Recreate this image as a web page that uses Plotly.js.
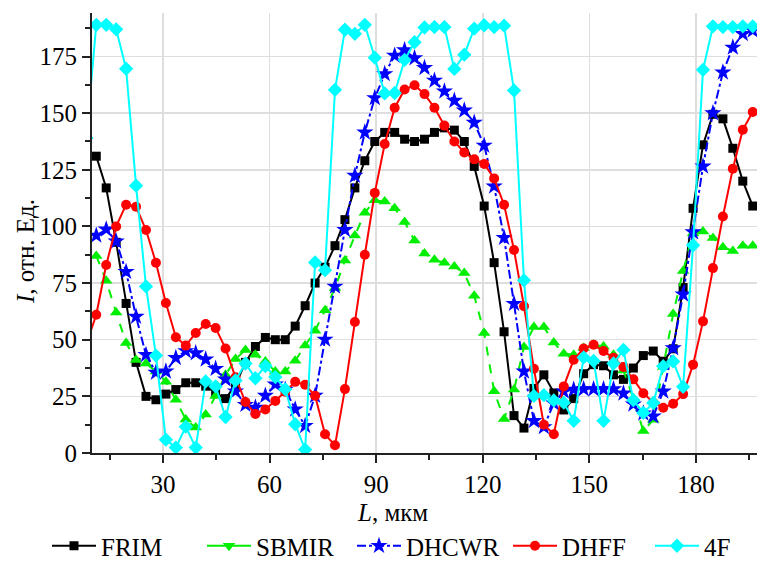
<!DOCTYPE html>
<html>
<head>
<meta charset="utf-8">
<script src="https://cdn.plot.ly/plotly-3.0.1.min.js"></script>
<style>html,body{margin:0;padding:0;background:#fff;}#chart{width:757px;height:561px;}</style>
</head>
<body>
<div id="chart"></div>
<script>
// x positions, L (мкм)
const L = [8.4, 11.2, 14.0, 16.8, 19.6, 22.4, 25.2, 28.0, 30.8, 33.6, 36.4, 39.2, 42.0, 44.8, 47.6, 50.4, 53.2, 56.0, 58.8, 61.6, 64.4, 67.2, 70.0, 72.8, 75.6, 78.4, 81.2, 84.0, 86.8, 89.6, 92.4, 95.2, 98.0, 100.8, 103.6, 106.4, 109.2, 112.0, 114.8, 117.6, 120.4, 123.2, 126.0, 128.8, 131.6, 134.4, 137.2, 140.0, 142.8, 145.6, 148.4, 151.2, 154.0, 156.8, 159.6, 162.4, 165.2, 168.0, 170.8, 173.6, 176.4, 179.2, 182.0, 184.8, 187.6, 190.4, 193.2, 196.0];

const FRIM = [null, 131, 117, 93, 66, 40, 25, 23.5, 26, 28, 31, 31, 29.5, 26.5, 24, 30, 40, 47, 51, 50, 50, 56, 65, 75, 82, 91.5, 103, 117, 129, 137.5, 141.5, 141.5, 138.5, 137.5, 138.5, 141.5, 143.5, 142.5, 137.5, 126.5, 109, 84, 53.5, 16.5, 11, 28.5, 34.5, 26.5, 19, 24, 35, 39, 38.5, 34.5, 32.5, 37.5, 43, 45, 40.5, 46, 73, 108, 136, 149.5, 147.5, 134.5, 120, 109];

const SBMIR = [null, 87, 76, 62, 48.5, 41, 39.5, 36, 31.5, 23.5, 14.8, 11.2, 17, 25.2, 34.5, 41.5, 45.5, 43.4, 40.4, 36, 36, 40.7, 47.5, 54, 63, 72.8, 85, 96, 106, 111.5, 111, 108, 102, 93.8, 88, 85.3, 84, 82.3, 79.4, 69.4, 53, 27.2, 15, 28, 46.8, 55.6, 55.6, 48.8, 43.8, 43.4, 46.3, 47.8, 47, 43.4, 36.4, 24, 9.7, 14.7, 38, 61.4, 80.3, 97, 97.8, 94.9, 90.8, 89.2, 91.5, 91.5];

const DHCWR = [null, 96, 98.7, 93.4, 80, 60.2, 43.3, 35.5, 36, 42, 45, 44.1, 41.3, 37.2, 32.5, 27.2, 21.3, 20.1, 25.3, 30.3, 28, 19.3, 12, 25.3, 50.1, 73.5, 98.5, 122.4, 141.5, 156.7, 167.3, 175.4, 177.8, 174.3, 170, 164.4, 159.6, 155.5, 151.2, 145.8, 135.7, 117.7, 95, 65.9, 36, 14.2, 11.5, 21.9, 27.2, 28, 28.2, 28.2, 28.2, 28.2, 26.3, 21.5, 17.5, 16.2, 27.2, 46.3, 70, 97.5, 126.5, 150, 168, 179, 185, 186.5];

const DHFF = [48, 61, 83, 100, 109.6, 108.7, 98.4, 84, 66.2, 51.1, 47.4, 53, 56.9, 55.2, 46.1, 33.4, 22.5, 17.2, 19.2, 23, 27, 31.4, 30.1, 25.3, 8.3, 3.4, 28.2, 57.8, 87.5, 114.8, 136.4, 152.4, 160.4, 162.3, 158.4, 152.4, 144.5, 137.5, 132.6, 129.6, 127.6, 121.2, 109.6, 89.6, 64.8, 37.2, 12.5, 8.3, 29.4, 41.2, 46.1, 47.8, 45, 42, 38, 32.5, 26.4, 22.3, 20, 21.7, 26, 39, 58.1, 81.6, 104.4, 125.5, 142.7, 150.5];

const F4 = [139, 189, 189, 187, 169.6, 118, 73.5, 43, 5.9, 2.4, 11.6, 2.4, 31.6, 29.4, 15.9, 32, 39.5, 33, 38.4, 33.5, 28.1, 12.7, 1.5, 84.1, 80.7, 160.3, 186.8, 185, 189, 174.5, 158.7, 158.9, 173.5, 181.3, 187.8, 188, 188, 169.5, 175.8, 187.3, 188.8, 188, 188.6, 160, 76.2, 25.2, 25.5, 23.2, 22.2, 14.2, 42.2, 40.6, 14.2, 39.5, 45.5, 23.3, 17.7, 22.1, 38.3, 40.4, 29.2, 91.7, 169.1, 188.3, 188, 188, 188.3, 188.3];

const seriesNames = ['FRIM', 'SBMIR', 'DHCWR', 'DHFF', '4F'];
const xTicks = [30, 60, 90, 120, 150, 180];
const yTicks = [0, 25, 50, 75, 100, 125, 150, 175];

const FONT = 'Liberation Serif';
const FS = 25;

function tr(name, y, color, symbol, size, dash, legendId, showlegend) {
  return {
    type: 'scatter', mode: 'lines+markers', name: name, x: L, y: y,
    connectgaps: false, showlegend: showlegend, legend: legendId,
    line: {color: color, width: 2, dash: dash},
    marker: {color: color, symbol: symbol, size: size, line: {width: 0}}
  };
}

const traces = [
  tr(seriesNames[0], FRIM, '#000000', 'square', 9, 'solid', 'legend', true),
  tr(seriesNames[1], SBMIR, '#00ee00', 'triangle-up', 11, 'dash', 'legend2', false),
  // legend entry for SBMIR (drawn with a down triangle as in the original legend)
  {type: 'scatter', mode: 'lines+markers', name: seriesNames[1], x: [null], y: [null], showlegend: true, legend: 'legend2',
   line: {color: '#00ee00', width: 2}, marker: {color: '#00ee00', symbol: 'triangle-down', size: 11}},
  tr(seriesNames[2], DHCWR, '#0000ff', 'star', 13, 'dashdot', 'legend3', true),
  tr(seriesNames[3], DHFF, '#ff0000', 'circle', 10, 'solid', 'legend4', true),
  tr(seriesNames[4], F4, '#00ffff', 'diamond', 11, 'solid', 'legend5', true)
];

const W = 665, H = 440; // plot area size
function leg(px) {
  return {
    orientation: 'h', x: (px - 92) / W, xanchor: 'left', y: -(546 - 453) / H, yanchor: 'middle',
    font: {family: FONT, size: FS, color: '#000'}, itemwidth: 44,
    bgcolor: 'rgba(0,0,0,0)', borderwidth: 0
  };
}

const layout = {
  width: 757, height: 561,
  margin: {l: 92, r: 0, t: 13, b: 108, autoexpand: false},
  paper_bgcolor: '#ffffff', plot_bgcolor: '#ffffff',
  font: {family: FONT, size: FS, color: '#000'},
  showlegend: true,
  xaxis: {
    range: [10, 197.2], tickvals: xTicks, ticktext: xTicks.map(String),
    ticks: 'outside', ticklen: 8, tickwidth: 2, tickcolor: '#222',
    showline: true, linecolor: '#222', linewidth: 2, mirror: false,
    showgrid: true, gridcolor: '#dedede', gridwidth: 1.5, zeroline: false,
    tickfont: {family: FONT, size: FS, color: '#000'}, automargin: false,
    minor: {dtick: 15, tick0: 15, ticks: 'outside', ticklen: 5, tickwidth: 2, tickcolor: '#222', showgrid: false}
  },
  yaxis: {
    range: [0, 194.2], tickvals: yTicks, ticktext: yTicks.map(String),
    ticks: 'outside', ticklen: 8, tickwidth: 2, tickcolor: '#222',
    showline: true, linecolor: '#222', linewidth: 2, mirror: false,
    showgrid: true, gridcolor: '#dedede', gridwidth: 1.5, zeroline: false,
    tickfont: {family: FONT, size: FS, color: '#000'}, automargin: false,
    minor: {dtick: 12.5, tick0: 12.5, ticks: 'outside', ticklen: 5, tickwidth: 2, tickcolor: '#222', showgrid: false}
  },
  legend: leg(47),
  legend2: leg(202),
  legend3: leg(352),
  legend4: leg(508),
  legend5: leg(650),
  annotations: [
    {xref: 'paper', yref: 'paper', x: (392 - 92) / W, y: -(512 - 453) / H, xanchor: 'center', yanchor: 'middle',
     text: '<i>L</i>, мкм', showarrow: false, font: {family: FONT, size: FS, color: '#000'}},
    {xref: 'paper', yref: 'paper', x: (25 - 92) / W, y: (453 - 252) / H, xanchor: 'center', yanchor: 'middle',
     text: '<i>I</i>, отн. Ед.', textangle: -90, showarrow: false, font: {family: FONT, size: FS, color: '#000'}}
  ]
};

Plotly.newPlot('chart', traces, layout, {displayModeBar: false, staticPlot: true});
</script>
</body>
</html>
